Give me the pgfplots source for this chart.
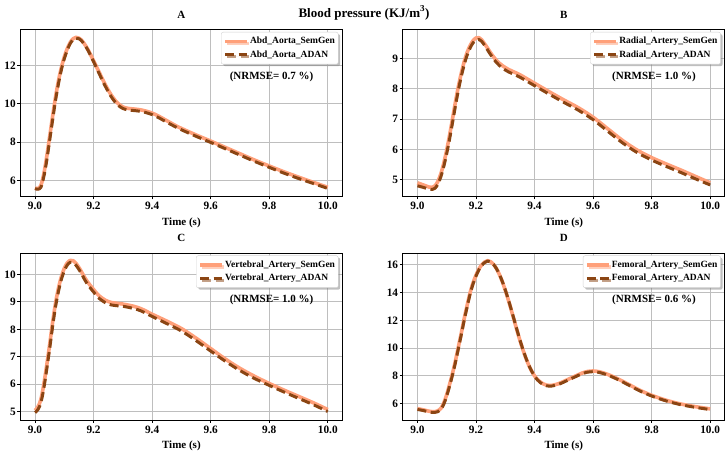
\documentclass[border=0pt]{standalone}
\usepackage{fontspec}
\setmainfont{Liberation Serif}
\usepackage{pgfplots}
\pgfplotsset{compat=1.18}
\usetikzlibrary{shadows}
\definecolor{semgencol}{RGB}{255,160,122}
\definecolor{adancol}{RGB}{139,69,19}
\definecolor{gridc}{RGB}{190,190,190}

\pgfplotsset{
  panel/.style={
    scale only axis, width=322pt, height=167pt, anchor=south west,
    xmin=8.95, xmax=10.05,
    xtick={9.0,9.2,9.4,9.6,9.8,10.0},
    xticklabels={9.0,9.2,9.4,9.6,9.8,10.0},
    grid=major, major grid style={gridc, line width=0.8pt},
    axis line style={black, line width=0.8pt},
    tick align=outside, tick pos=left, major tick length=3pt,
    tick style={black, line width=0.8pt},
    ticklabel style={font=\fontsize{11.3}{11}\selectfont\bfseries},
    xticklabel style={inner sep=2.5pt},
    yticklabel style={inner sep=1.5pt},
    title style={font=\fontsize{11}{11}\selectfont\bfseries, at={(0.5,1)}, anchor=south, yshift=5pt, inner sep=0pt},
    xlabel={Time (s)},
    xlabel style={font=\fontsize{11}{11}\selectfont\bfseries, at={(0.5,0)}, anchor=north, yshift=-21pt, inner sep=0pt},
    legend cell align=left,
    legend style={at={(1,1)}, anchor=north east, xshift=-4pt, yshift=-2.5pt,
      font=\fontsize{9.5}{11}\selectfont\bfseries, draw=gray!35, fill=white,
      rounded corners=2pt, inner xsep=2pt, inner ysep=4pt, row sep=3pt,
      nodes={inner sep=1.2pt},
      drop shadow={shadow xshift=2pt, shadow yshift=-2pt, fill=gray, opacity=0.5}},
    legend image code/.code={\draw[##1] (0pt,0pt) -- (22pt,0pt);},
  },
  semline/.style={color=semgencol, line width=3.6pt, line join=round, smooth},
  adanline/.style={color=adancol, line width=3pt, dash pattern=on 9pt off 4.5pt, line join=round, smooth},
}

\begin{document}
\begin{tikzpicture}
\useasboundingbox (0,0) rectangle (727pt,454pt);
\node[font=\fontsize{13}{13}\selectfont\bfseries] at (364pt,441pt) {Blood pressure (KJ/m\raisebox{1.5pt}{\textsuperscript{3}})};

% Panel A
\begin{axis}[panel, at={(20.4pt,257.5pt)}, title={A},
  ymin=5.17, ymax=13.88, ytick={6,8,10,12}, yticklabels={6,8,10,12}]
\addplot[semline] coordinates {(9.00,5.62)(9.01,5.58)(9.02,5.75)(9.03,6.35)(9.04,7.25)(9.05,8.30)(9.06,9.35)(9.07,10.35)(9.08,11.20)(9.09,11.90)(9.10,12.45)(9.11,12.88)(9.12,13.20)(9.13,13.40)(9.14,13.47)(9.15,13.43)(9.16,13.30)(9.17,13.10)(9.18,12.85)(9.19,12.56)(9.20,12.25)(9.22,11.62)(9.24,11.00)(9.26,10.47)(9.28,10.07)(9.30,9.84)(9.32,9.76)(9.34,9.73)(9.36,9.69)(9.38,9.62)(9.40,9.52)(9.42,9.38)(9.44,9.21)(9.46,9.04)(9.48,8.87)(9.50,8.72)(9.55,8.38)(9.60,8.06)(9.65,7.73)(9.70,7.40)(9.75,7.07)(9.80,6.76)(9.85,6.46)(9.90,6.18)(9.95,5.91)(10.00,5.65)};
\addlegendentry{Abd\_Aorta\_SemGen}
\addplot[adanline] coordinates {(9.00,5.58)(9.01,5.55)(9.02,5.65)(9.03,6.20)(9.04,7.05)(9.05,8.10)(9.06,9.15)(9.07,10.18)(9.08,11.05)(9.09,11.78)(9.10,12.36)(9.11,12.80)(9.12,13.14)(9.13,13.35)(9.14,13.42)(9.15,13.40)(9.16,13.27)(9.17,13.07)(9.18,12.82)(9.19,12.52)(9.20,12.20)(9.22,11.55)(9.24,10.92)(9.26,10.38)(9.28,9.98)(9.30,9.76)(9.32,9.68)(9.34,9.65)(9.36,9.61)(9.38,9.54)(9.40,9.44)(9.42,9.30)(9.44,9.13)(9.46,8.96)(9.48,8.80)(9.50,8.65)(9.55,8.31)(9.60,7.99)(9.65,7.66)(9.70,7.33)(9.75,7.00)(9.80,6.69)(9.85,6.39)(9.90,6.11)(9.95,5.85)(10.00,5.59)};
\addlegendentry{Abd\_Aorta\_ADAN}
\node[font=\fontsize{11}{11}\selectfont\bfseries] at (rel axis cs:0.78,0.715) {(NRMSE= 0.7 \%)};
\end{axis}

% Panel B
\begin{axis}[panel, at={(402.8pt,257.5pt)}, title={B},
  ymin=4.45, ymax=9.95, ytick={5,6,7,8,9}, yticklabels={5,6,7,8,9}]
\addplot[semline] coordinates {(9.00,4.90)(9.02,4.83)(9.04,4.76)(9.05,4.75)(9.06,4.80)(9.07,4.95)(9.08,5.20)(9.09,5.55)(9.10,5.98)(9.11,6.48)(9.12,7.02)(9.13,7.57)(9.14,8.08)(9.15,8.52)(9.16,8.90)(9.17,9.20)(9.18,9.42)(9.19,9.58)(9.20,9.67)(9.21,9.68)(9.22,9.60)(9.23,9.47)(9.24,9.33)(9.25,9.18)(9.27,8.93)(9.29,8.76)(9.31,8.64)(9.33,8.55)(9.35,8.46)(9.40,8.18)(9.45,7.90)(9.50,7.63)(9.55,7.37)(9.60,7.06)(9.65,6.68)(9.70,6.30)(9.75,5.98)(9.80,5.73)(9.85,5.52)(9.90,5.32)(9.95,5.11)(10.00,4.90)};
\addlegendentry{Radial\_Artery\_SemGen}
\addplot[adanline] coordinates {(9.00,4.80)(9.02,4.75)(9.04,4.69)(9.05,4.68)(9.06,4.72)(9.07,4.86)(9.08,5.10)(9.09,5.44)(9.10,5.86)(9.11,6.35)(9.12,6.89)(9.13,7.44)(9.14,7.96)(9.15,8.41)(9.16,8.80)(9.17,9.11)(9.18,9.34)(9.19,9.51)(9.20,9.60)(9.21,9.62)(9.22,9.55)(9.23,9.42)(9.24,9.27)(9.25,9.12)(9.27,8.86)(9.29,8.68)(9.31,8.56)(9.33,8.47)(9.35,8.38)(9.40,8.10)(9.45,7.82)(9.50,7.55)(9.55,7.29)(9.60,6.98)(9.65,6.60)(9.70,6.22)(9.75,5.90)(9.80,5.65)(9.85,5.44)(9.90,5.24)(9.95,5.03)(10.00,4.83)};
\addlegendentry{Radial\_Artery\_ADAN}
\node[font=\fontsize{11}{11}\selectfont\bfseries] at (rel axis cs:0.78,0.717) {(NRMSE= 1.0 \%)};
\end{axis}

% Panel C
\begin{axis}[panel, at={(20.4pt,34pt)}, title={C},
  ymin=4.70, ymax=10.78, ytick={5,6,7,8,9,10}, yticklabels={5,6,7,8,9,10}]
\addplot[semline] coordinates {(9.00,5.05)(9.01,5.18)(9.02,5.45)(9.03,6.00)(9.04,6.70)(9.05,7.45)(9.06,8.25)(9.07,8.95)(9.08,9.50)(9.09,9.92)(9.10,10.22)(9.11,10.42)(9.12,10.51)(9.13,10.50)(9.14,10.40)(9.15,10.25)(9.16,10.07)(9.17,9.88)(9.18,9.72)(9.19,9.58)(9.20,9.45)(9.21,9.32)(9.22,9.21)(9.24,9.06)(9.26,8.98)(9.28,8.95)(9.30,8.92)(9.32,8.88)(9.34,8.83)(9.36,8.76)(9.38,8.66)(9.40,8.55)(9.45,8.30)(9.50,8.03)(9.55,7.68)(9.60,7.30)(9.65,6.92)(9.70,6.58)(9.75,6.29)(9.80,6.03)(9.85,5.79)(9.90,5.56)(9.95,5.33)(10.00,5.08)};
\addlegendentry{Vertebral\_Artery\_SemGen}
\addplot[adanline] coordinates {(9.00,4.97)(9.01,5.08)(9.02,5.33)(9.03,5.85)(9.04,6.55)(9.05,7.30)(9.06,8.10)(9.07,8.82)(9.08,9.38)(9.09,9.82)(9.10,10.13)(9.11,10.34)(9.12,10.44)(9.13,10.43)(9.14,10.33)(9.15,10.18)(9.16,10.00)(9.17,9.80)(9.18,9.63)(9.19,9.49)(9.20,9.36)(9.21,9.23)(9.22,9.12)(9.24,8.97)(9.26,8.89)(9.28,8.86)(9.30,8.84)(9.32,8.80)(9.34,8.75)(9.36,8.68)(9.38,8.58)(9.40,8.47)(9.45,8.21)(9.50,7.94)(9.55,7.59)(9.60,7.21)(9.65,6.84)(9.70,6.50)(9.75,6.21)(9.80,5.96)(9.85,5.72)(9.90,5.49)(9.95,5.26)(10.00,5.01)};
\addlegendentry{Vertebral\_Artery\_ADAN}
\node[font=\fontsize{11}{11}\selectfont\bfseries] at (rel axis cs:0.78,0.72) {(NRMSE= 1.0 \%)};
\end{axis}

% Panel D
\begin{axis}[panel, at={(402.8pt,34pt)}, title={D},
  ymin=4.82, ymax=16.85, ytick={6,8,10,12,14,16}, yticklabels={6,8,10,12,14,16}]
\addplot[semline] coordinates {(9.00,5.64)(9.02,5.55)(9.04,5.45)(9.05,5.42)(9.06,5.42)(9.07,5.48)(9.08,5.65)(9.09,6.05)(9.10,6.65)(9.11,7.40)(9.12,8.20)(9.13,9.10)(9.14,10.10)(9.15,11.10)(9.16,12.15)(9.17,13.10)(9.18,14.00)(9.19,14.70)(9.20,15.25)(9.21,15.70)(9.22,16.00)(9.23,16.20)(9.24,16.30)(9.25,16.22)(9.26,16.03)(9.27,15.72)(9.28,15.30)(9.29,14.78)(9.30,14.17)(9.31,13.50)(9.32,12.78)(9.33,12.03)(9.34,11.28)(9.35,10.56)(9.36,9.90)(9.37,9.30)(9.38,8.78)(9.39,8.35)(9.40,8.00)(9.41,7.74)(9.42,7.55)(9.43,7.42)(9.44,7.34)(9.45,7.31)(9.46,7.32)(9.48,7.42)(9.50,7.60)(9.52,7.80)(9.54,7.99)(9.56,8.18)(9.58,8.31)(9.60,8.35)(9.62,8.30)(9.64,8.18)(9.66,8.02)(9.68,7.83)(9.70,7.62)(9.73,7.29)(9.76,6.96)(9.80,6.60)(9.85,6.24)(9.90,5.97)(9.95,5.78)(10.00,5.62)};
\addlegendentry{Femoral\_Artery\_SemGen}
\addplot[adanline] coordinates {(9.00,5.58)(9.02,5.50)(9.04,5.40)(9.05,5.37)(9.06,5.37)(9.07,5.42)(9.08,5.58)(9.09,5.96)(9.10,6.55)(9.11,7.28)(9.12,8.08)(9.13,8.98)(9.14,9.98)(9.15,10.98)(9.16,12.03)(9.17,12.99)(9.18,13.90)(9.19,14.62)(9.20,15.18)(9.21,15.64)(9.22,15.96)(9.23,16.17)(9.24,16.27)(9.25,16.20)(9.26,16.02)(9.27,15.72)(9.28,15.31)(9.29,14.80)(9.30,14.20)(9.31,13.53)(9.32,12.82)(9.33,12.07)(9.34,11.32)(9.35,10.60)(9.36,9.93)(9.37,9.32)(9.38,8.79)(9.39,8.35)(9.40,7.99)(9.41,7.71)(9.42,7.51)(9.43,7.37)(9.44,7.29)(9.45,7.26)(9.46,7.27)(9.48,7.37)(9.50,7.55)(9.52,7.75)(9.54,7.94)(9.56,8.13)(9.58,8.26)(9.60,8.30)(9.62,8.25)(9.64,8.13)(9.66,7.97)(9.68,7.78)(9.70,7.57)(9.73,7.24)(9.76,6.91)(9.80,6.55)(9.85,6.19)(9.90,5.92)(9.95,5.73)(10.00,5.57)};
\addlegendentry{Femoral\_Artery\_ADAN}
\node[font=\fontsize{11}{11}\selectfont\bfseries] at (rel axis cs:0.78,0.72) {(NRMSE= 0.6 \%)};
\end{axis}
\end{tikzpicture}
\end{document}
